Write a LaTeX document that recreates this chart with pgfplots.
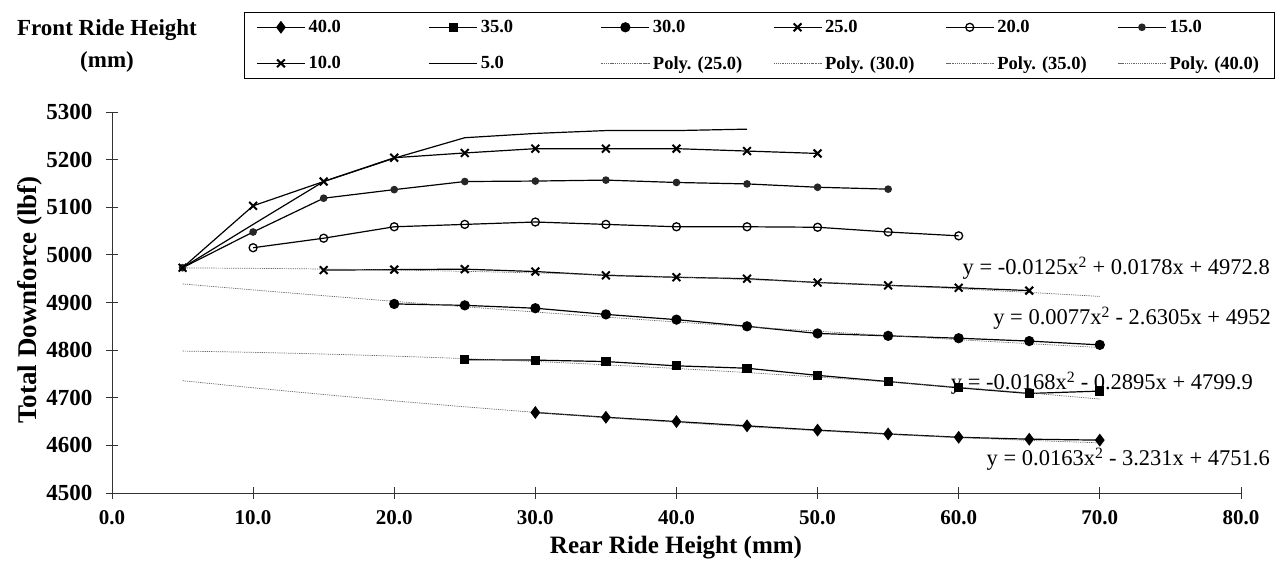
\documentclass[border=0pt]{standalone}
\usepackage{pgfplots}
\pgfplotsset{compat=1.18}
\usepackage{fontspec}
\setmainfont{Liberation Serif}
\begin{document}
\begin{tikzpicture}[x=1pt,y=1pt]
\path[use as bounding box] (0,0) rectangle (1278,578);
\begin{axis}[
  at={(112pt,85pt)}, anchor=south west,
  scale only axis, width=1129pt, height=381pt,
  xmin=0, xmax=80, ymin=4500, ymax=5300,
  xtick={0,10,...,80}, ytick={4500,4600,...,5300},
  scaled ticks=false,
  axis lines=left, axis line style={-, line width=0.8pt, black!80},
  tick align=center, major tick length=12pt, tick style={black!80, line width=0.8pt},
  /pgf/number format/assume math mode=true,
  xticklabel style={font=\fontsize{21}{24}\selectfont\bfseries, yshift=-8pt},
  yticklabel style={font=\fontsize{23}{26}\selectfont\bfseries, xshift=-10pt},
  xticklabel={\pgfmathprintnumber[fixed,fixed zerofill,precision=1]{\tick}},
  yticklabel={\pgfmathprintnumber[fixed,precision=0,1000 sep={}]{\tick}},
  clip=false,
  legend columns=6,
  legend style={at={(0.1169,1.2625)}, anchor=north west, draw=black, line width=0.8pt,
    font=\fontsize{18.5}{20}\selectfont\bfseries, inner xsep=12pt, inner ysep=6pt,
    row sep=18pt, nodes={inner xsep=3pt},
    /tikz/every even column/.append style={column sep=0pt}},
  legend cell align=left,
  legend image code/.code={\draw[mark repeat=2,mark phase=2,#1] plot coordinates {(0pt,0pt) (24pt,0pt) (48pt,0pt)};},
  every axis plot/.append style={line width=1.2pt, black},
]
\addplot[mark=diamond*, mark size=5.5pt] coordinates {(30,4669)(35,4659)(40,4650)(45,4641)(50,4632)(55,4624)(60,4617)(65,4613)(70,4611)};
\addlegendentry{\makebox[117pt][l]{40.0}}
\addplot[mark=square*, mark size=4pt] coordinates {(25,4780)(30,4779)(35,4776)(40,4767)(45,4762)(50,4747)(55,4734)(60,4721)(65,4709)(70,4714)};
\addlegendentry{\makebox[117pt][l]{35.0}}
\addplot[mark=*, mark size=4.5pt] coordinates {(20,4897)(25,4894)(30,4888)(35,4875)(40,4864)(45,4850)(50,4835)(55,4830)(60,4825)(65,4819)(70,4811)};
\addlegendentry{\makebox[117pt][l]{30.0}}
\addplot[mark=x, mark size=5.5pt, mark options={line width=2pt}] coordinates {(15,4968)(20,4969)(25,4970)(30,4965)(35,4957)(40,4953)(45,4950)(50,4942)(55,4936)(60,4931)(65,4925)};
\addlegendentry{\makebox[117pt][l]{25.0}}
\addplot[mark=o, mark size=4pt, mark options={line width=1.3pt, fill=white}] coordinates {(10,5015)(15,5035)(20,5059)(25,5064)(30,5069)(35,5064)(40,5059)(45,5059)(50,5058)(55,5048)(60,5040)};
\addlegendentry{\makebox[117pt][l]{20.0}}
\addplot[mark=*, mark size=3.2pt, mark options={black!85}] coordinates {(5,4973)(10,5048)(15,5119)(20,5137)(25,5154)(30,5155)(35,5157)(40,5152)(45,5149)(50,5142)(55,5138)};
\addlegendentry{15.0}
\addplot[mark=x, mark size=5.5pt, mark options={line width=2pt}] coordinates {(5,4973)(10,5103)(15,5154)(20,5204)(25,5214)(30,5223)(35,5223)(40,5223)(45,5218)(50,5213)};
\addlegendentry{\makebox[117pt][l]{10.0}}
\addplot[no marks] coordinates {(5,4973)(10,5064)(15,5154)(20,5203)(25,5246)(30,5255)(35,5261)(40,5261)(45,5264)};
\addlegendentry{\makebox[117pt][l]{5.0}}
\addplot[no marks, smooth, densely dotted, line width=0.7pt, black!60] coordinates {(5,4972.58)(10,4971.73)(15,4970.25)(20,4968.16)(25,4965.43)(30,4962.08)(35,4958.11)(40,4953.51)(45,4948.29)(50,4942.44)(55,4935.97)(60,4928.87)(65,4921.14)(70,4912.80)};
\addlegendentry{\makebox[117pt][l]{Poly. (25.0)}}
\addplot[no marks, smooth, densely dotted, line width=0.7pt, black!60] coordinates {(5,4939.04)(10,4926.47)(15,4914.28)(20,4902.47)(25,4891.05)(30,4880.02)(35,4869.37)(40,4859.10)(45,4849.22)(50,4839.73)(55,4830.62)(60,4821.89)(65,4813.55)(70,4805.60)};
\addlegendentry{\makebox[117pt][l]{Poly. (30.0)}}
\addplot[no marks, smooth, densely dotted, line width=0.7pt, black!60] coordinates {(5,4798.03)(10,4795.33)(15,4791.78)(20,4787.40)(25,4782.16)(30,4776.10)(35,4769.21)(40,4761.42)(45,4752.85)(50,4743.43)(55,4733.20)(60,4722.04)(65,4710.10)(70,4697.26)};
\addlegendentry{\makebox[117pt][l]{Poly. (35.0)}}
\addplot[no marks, smooth, densely dotted, line width=0.7pt, black!60] coordinates {(5,4735.85)(10,4720.92)(15,4706.80)(20,4693.50)(25,4681.01)(30,4669.34)(35,4658.49)(40,4648.40)(45,4639.22)(50,4630.80)(55,4623.20)(60,4616.42)(65,4610.50)(70,4605.30)};
\addlegendentry{Poly. (40.0)}
\end{axis}
\node[font=\fontsize{23}{26}\selectfont\bfseries] at (107,548) {Front Ride Height};
\node[font=\fontsize{23}{26}\selectfont\bfseries] at (107,516) {(mm)};
\node[rotate=90, font=\fontsize{27}{30}\selectfont\bfseries] at (30,278) {Total Downforce (lbf)};
\node[font=\fontsize{25}{28}\selectfont\bfseries] at (676,30) {Rear Ride Height (mm)};
\begin{scope}[every node/.style={font=\fontsize{22.5}{26}\selectfont, anchor=east, inner sep=0pt}]
\node at (1270,310) {y = -0.0125x\textsuperscript{2} + 0.0178x + 4972.8};
\node at (1271,260) {y = 0.0077x\textsuperscript{2} - 2.6305x + 4952};
\node at (1253,195) {y = -0.0168x\textsuperscript{2} - 0.2895x + 4799.9};
\node at (1270,119) {y = 0.0163x\textsuperscript{2} - 3.231x + 4751.6};
\end{scope}
\end{tikzpicture}
\end{document}
